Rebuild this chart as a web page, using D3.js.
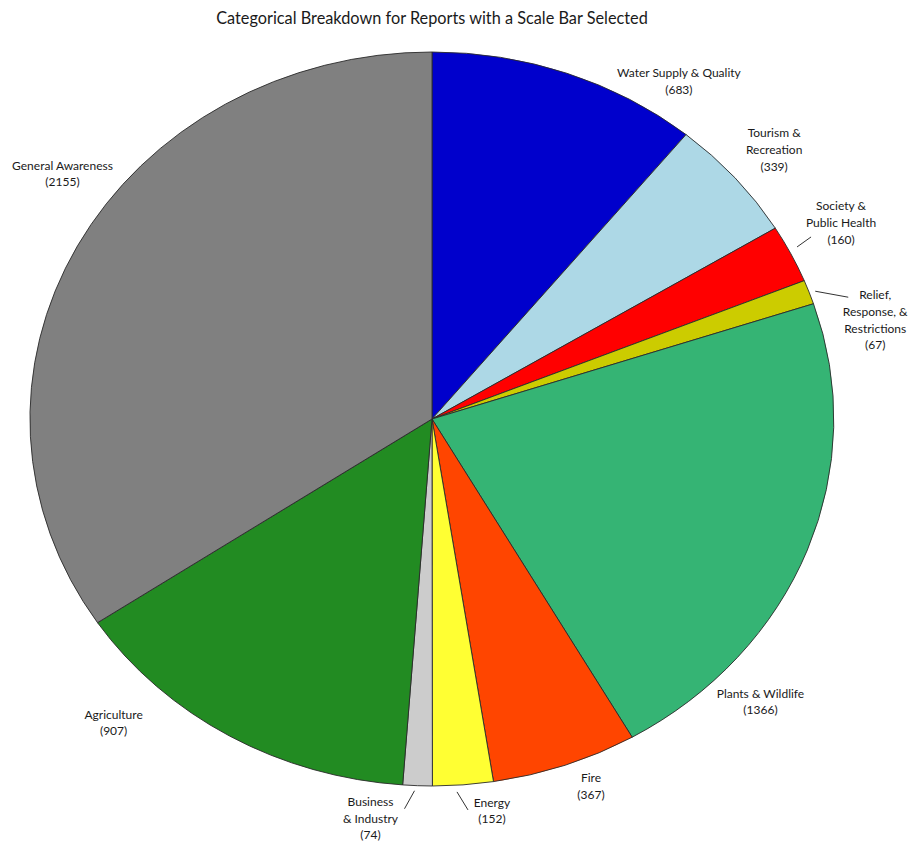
<!DOCTYPE html>
<html>
<head>
<meta charset="utf-8">
<script src="https://cdn.jsdelivr.net/npm/d3@7"></script>
<style>
  html, body { margin: 0; padding: 0; background: #fff; }
  svg text { font-family: "Lato", "Open Sans", sans-serif; fill: #1a1a1a; }
</style>
</head>
<body>
<svg id="chart" width="911" height="842"></svg>
<script>
// Report counts by category (clockwise from 12 o'clock)
const categories = [
  "Water Supply & Quality",
  "Tourism &\nRecreation",
  "Society &\nPublic Health",
  "Relief,\nResponse, &\nRestrictions",
  "Plants & Wildlife",
  "Fire",
  "Energy",
  "Business\n& Industry",
  "Agriculture",
  "General Awareness"
];
const values = [683, 339, 160, 67, 1366, 367, 152, 74, 907, 2155];
const colors = [
  "#0000cc", "#add8e6", "#ff0000", "#cccc00", "#35b474",
  "#ff4500", "#ffff33", "#cccccc", "#228b22", "#808080"
];

// Label block offsets (px) from the point on the rim at each slice's mid angle
const labelOffsets = [
  [112, 8], [39, -28], [50, -31], [66, 28], [-47, 152],
  [26, 21], [29, 26], [-47, 33], [-116, -13], [-15, -72]
];
// Leader lines: [start offset, end offset] from the same rim point
const leaders = {
  2: [[6, -7], [20, -17]],
  3: [[6, -1], [39, 5]],
  6: [[-6, 7], [5, 25]],
  7: [[-3, 5], [-13, 23]]
};

const title = "Categorical Breakdown for Reports with a Scale Bar Selected";

const svg = d3.select("#chart");
const cx = 432, cy = 419, rx = 402, ry = 367;
const lineH = 16.7;

svg.append("text")
  .attr("x", cx)
  .attr("y", 24)
  .attr("text-anchor", "middle")
  .style("font-size", "16.3px")
  .text(title);

const pie = d3.pie().sort(null).value(d => d.value);
const data = categories.map((c, i) => ({ name: c, value: values[i], color: colors[i], i }));
const arcs = pie(data);

// Unit-radius arcs stretched into an ellipse
const arc = d3.arc().innerRadius(0).outerRadius(1);

const g = svg.append("g").attr("transform", `translate(${cx},${cy}) scale(${rx},${ry})`);
g.selectAll("path")
  .data(arcs)
  .join("path")
  .attr("d", arc)
  .attr("fill", d => d.data.color)
  .attr("stroke", "#2a2a2a")
  .attr("stroke-width", 0.9)
  .attr("vector-effect", "non-scaling-stroke");

// Labels
const rim = d => {
  const a = (d.startAngle + d.endAngle) / 2;
  return [cx + rx * Math.sin(a), cy - ry * Math.cos(a)];
};

const lg = svg.append("g");
arcs.forEach((d, i) => {
  const [px, py] = rim(d);
  const [ox, oy] = labelOffsets[i];
  const lines = d.data.name.split("\n").concat([`(${d.data.value})`]);
  const n = lines.length;
  const x = px + ox;
  const yc = py + oy;
  const t = lg.append("text")
    .attr("text-anchor", "middle")
    .style("font-size", "12px");
  lines.forEach((ln, k) => {
    t.append("tspan")
      .attr("x", x)
      .attr("y", yc + (k - (n - 1) / 2) * lineH + 4)
      .text(ln);
  });
  if (leaders[i]) {
    const [s, e] = leaders[i];
    lg.append("line")
      .attr("x1", px + s[0]).attr("y1", py + s[1])
      .attr("x2", px + e[0]).attr("y2", py + e[1])
      .attr("stroke", "#333")
      .attr("stroke-width", 1);
  }
});
</script>
</body>
</html>
